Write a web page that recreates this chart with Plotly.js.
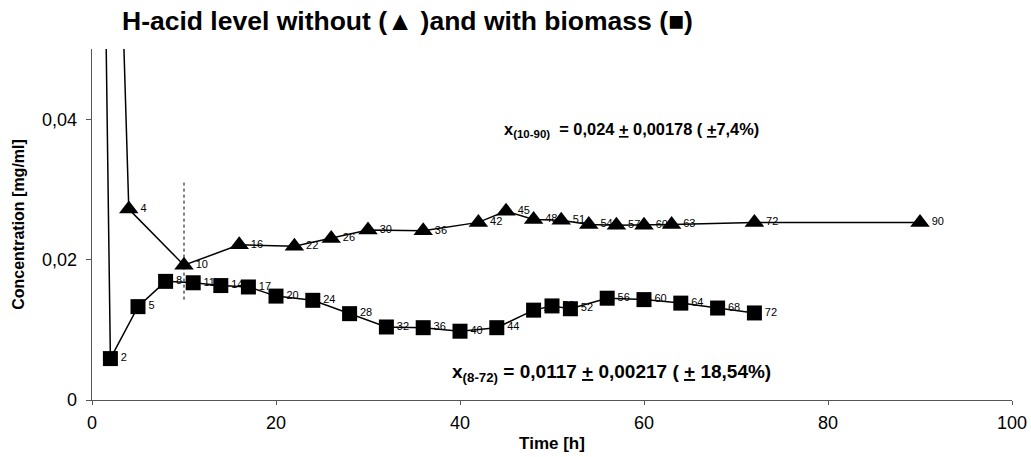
<!DOCTYPE html>
<html>
<head>
<meta charset="utf-8">
<script src="https://cdn.plot.ly/plotly-3.0.1.min.js"></script>
<style>html,body{margin:0;padding:0;background:#fff;}#chart{width:1031px;height:457px;}</style>
</head>
<body>
<div id="chart"></div>
<script>
// Without biomass (triangles)
const timeWithout = [0, 4, 10, 16, 22, 26, 30, 36, 42, 45, 48, 51, 54, 57, 60, 63, 72, 90];
const concWithout = [0.2, 0.0272, 0.0192, 0.0221, 0.0219, 0.0230, 0.0242, 0.0241, 0.0253, 0.0269, 0.0257, 0.0256, 0.0250, 0.0249, 0.0249, 0.0250, 0.0253, 0.0253];
const labelsWithout = ["", "4", "10", "16", "22", "26", "30", "36", "42", "45", "48", "51", "54", "57", "60", "63", "72", "90"];

// With biomass (squares)
const timeWith = [0, 2, 5, 8, 11, 14, 17, 20, 24, 28, 32, 36, 40, 44, 48, 50, 52, 56, 60, 64, 68, 72];
const concWith = [0.2, 0.0059, 0.0133, 0.0169, 0.0167, 0.0163, 0.0161, 0.0148, 0.0142, 0.0123, 0.0104, 0.0103, 0.0098, 0.0103, 0.0128, 0.0134, 0.0130, 0.0145, 0.0143, 0.0138, 0.0131, 0.0124];
const labelsWith = ["", "2", "5", "8", "11", "14", "17", "20", "24", "28", "32", "36", "40", "44", "48", "50", "52", "56", "60", "64", "68", "72"];

const xTicks = [0, 20, 40, 60, 80, 100];
const yTicks = [0, 0.02, 0.04];

const FONT = "Liberation Sans, Arial, sans-serif";
const labelFont = {family: FONT, size: 11, color: "#000000"};

// keep only labelled points for the label traces
function labelled(xs, ys, ts) {
  const o = {x: [], y: [], t: []};
  ts.forEach((t, i) => { if (t !== "") { o.x.push(xs[i]); o.y.push(ys[i]); o.t.push(t); } });
  return o;
}
const lw = labelled(timeWithout, concWithout, labelsWithout);
const lb = labelled(timeWith, concWith, labelsWith);

const traces = [
  {x: lw.x, y: lw.y, text: lw.t, mode: "markers+text", textposition: "middle right",
   marker: {symbol: "triangle-up", size: 17, color: "rgba(0,0,0,0)"},
   textfont: labelFont, showlegend: false, hoverinfo: "skip", cliponaxis: false},
  {x: lb.x, y: lb.y, text: lb.t, mode: "markers+text", textposition: "middle right",
   marker: {symbol: "square", size: 15, color: "rgba(0,0,0,0)"},
   textfont: labelFont, showlegend: false, hoverinfo: "skip", cliponaxis: false},
  {x: timeWithout, y: concWithout, mode: "lines+markers", showlegend: false,
   line: {color: "#000", width: 1.5},
   marker: {symbol: "triangle-up", size: 17, color: "#000"}},
  {x: timeWith, y: concWith, mode: "lines+markers", showlegend: false,
   line: {color: "#000", width: 1.5},
   marker: {symbol: "square", size: 15, color: "#000"}}
];

const layout = {
  width: 1031, height: 457,
  margin: {l: 92, r: 19, t: 49, b: 57},
  paper_bgcolor: "#fff", plot_bgcolor: "#fff",
  separators: ", ",
  font: {family: FONT, color: "#000"},
  title: {text: "<b>H-acid level without (▲ )and with biomass (■)</b>",
          font: {family: FONT, size: 26.5, color: "#000"},
          x: 122/1031, xanchor: "left", y: 1 - 21/457, yanchor: "middle"},
  xaxis: {range: [0, 100], tickvals: xTicks, ticks: "outside", ticklen: 4, tickcolor: "#555",
          showline: true, linecolor: "#555", linewidth: 1.3, showgrid: false, zeroline: false,
          tickfont: {family: FONT, size: 18, color: "#000"}, ticklabelstandoff: 2,
          title: {text: "<b>Time [h]</b>", font: {family: FONT, size: 17, color: "#000"}, standoff: 5}},
  yaxis: {range: [0, 0.05], tickvals: yTicks, ticks: "outside", ticklen: 5, tickcolor: "#555",
          showline: true, linecolor: "#555", linewidth: 1.3, showgrid: false, zeroline: false,
          tickfont: {family: FONT, size: 18, color: "#000"}, ticklabelstandoff: 5,
          title: {text: "<b>Concentration [mg/ml]</b>", font: {family: FONT, size: 16, color: "#000"}, standoff: 13}},
  shapes: [
    {type: "line", xref: "x", yref: "y", x0: 10, x1: 10, y0: 0.0143, y1: 0.0312,
     line: {color: "#000", width: 1, dash: "dot"}}
  ],
  annotations: [
    {xref: "x", yref: "y", x: 44.6, y: 0.0384, xanchor: "left", yanchor: "middle", showarrow: false,
     text: "<b>x<sub>(10-90)</sub>  = 0,024 <u>+</u> 0,00178 ( <u>+</u>7,4%)</b>",
     font: {family: FONT, size: 16.4, color: "#000"}},
    {xref: "x", yref: "y", x: 38.9, y: 0.0038, xanchor: "left", yanchor: "middle", showarrow: false,
     text: "<b>x<sub>(8-72)</sub> = 0,0117 <u>+</u> 0,00217 ( <u>+</u> 18,54%)</b>",
     font: {family: FONT, size: 19, color: "#000"}}
  ]
};

Plotly.newPlot("chart", traces, layout, {displayModeBar: false, staticPlot: true});
</script>
</body>
</html>
